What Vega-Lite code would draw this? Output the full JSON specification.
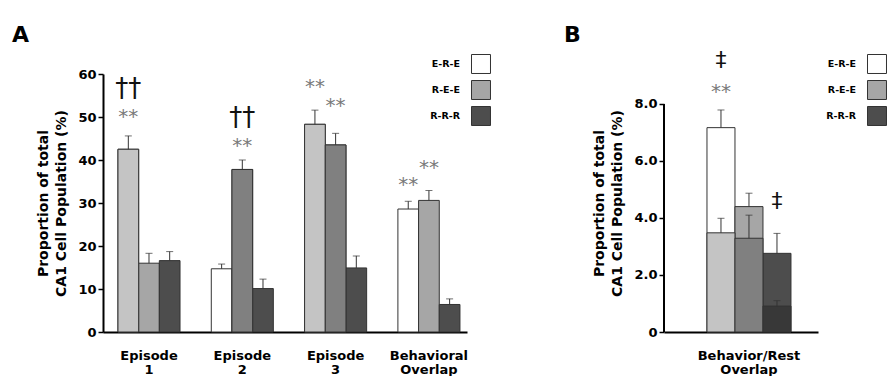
{
  "$schema": "https://vega.github.io/schema/vega-lite/v6.json",
  "padding": {"left": 12, "top": 23, "right": 0, "bottom": 0},
  "config": {
    "font": "DejaVu Sans",
    "view": {"stroke": null},
    "axis": {"grid": false, "domainColor": "#000", "domainWidth": 2, "tickColor": "#000", "labelColor": "#000", "titleColor": "#000", "labelFont": "DejaVu Sans", "titleFont": "DejaVu Sans"}
  },
  "datasets": {
    "a": [
      {"group": "Episode 1", "series": "E-R-E", "value": 42.5, "err": 45.6, "active": true},
      {"group": "Episode 1", "series": "R-E-E", "value": 16.0, "err": 18.3, "active": false},
      {"group": "Episode 1", "series": "R-R-R", "value": 16.6, "err": 18.7, "active": false},
      {"group": "Episode 2", "series": "E-R-E", "value": 14.7, "err": 15.8, "active": false},
      {"group": "Episode 2", "series": "R-E-E", "value": 37.8, "err": 40.0, "active": true},
      {"group": "Episode 2", "series": "R-R-R", "value": 10.1, "err": 12.3, "active": false},
      {"group": "Episode 3", "series": "E-R-E", "value": 48.3, "err": 51.6, "active": true},
      {"group": "Episode 3", "series": "R-E-E", "value": 43.5, "err": 46.2, "active": true},
      {"group": "Episode 3", "series": "R-R-R", "value": 14.9, "err": 17.7, "active": false},
      {"group": "Behavioral Overlap", "series": "E-R-E", "value": 28.6, "err": 30.4, "active": false},
      {"group": "Behavioral Overlap", "series": "R-E-E", "value": 30.6, "err": 32.9, "active": false},
      {"group": "Behavioral Overlap", "series": "R-R-R", "value": 6.4, "err": 7.7, "active": false}
    ],
    "aAnn": [
      {"group": "Episode 1", "series": "E-R-E", "label": "††", "level": 56.6},
      {"group": "Episode 1", "series": "E-R-E", "label": "**", "level": 50.0},
      {"group": "Episode 2", "series": "R-E-E", "label": "††", "level": 49.7},
      {"group": "Episode 2", "series": "R-E-E", "label": "**", "level": 43.3},
      {"group": "Episode 3", "series": "E-R-E", "label": "**", "level": 56.9},
      {"group": "Episode 3", "series": "R-E-E", "label": "**", "level": 52.5},
      {"group": "Behavioral Overlap", "series": "E-R-E", "label": "**", "level": 34.3},
      {"group": "Behavioral Overlap", "series": "R-E-E", "label": "**", "level": 38.2}
    ],
    "b": [
      {"group": "Behavior/Rest Overlap", "series": "E-R-E", "part": "total", "value": 7.17, "err": 7.79},
      {"group": "Behavior/Rest Overlap", "series": "R-E-E", "part": "total", "value": 4.4, "err": 4.87},
      {"group": "Behavior/Rest Overlap", "series": "R-R-R", "part": "total", "value": 2.76, "err": 3.46},
      {"group": "Behavior/Rest Overlap", "series": "E-R-E", "part": "subset", "value": 3.48, "err": 3.99},
      {"group": "Behavior/Rest Overlap", "series": "R-E-E", "part": "subset", "value": 3.29, "err": 4.1},
      {"group": "Behavior/Rest Overlap", "series": "R-R-R", "part": "subset", "value": 0.91, "err": 1.1}
    ],
    "bAnn": [
      {"group": "Behavior/Rest Overlap", "series": "E-R-E", "label": "‡", "level": 9.54},
      {"group": "Behavior/Rest Overlap", "series": "E-R-E", "label": "**", "level": 8.42},
      {"group": "Behavior/Rest Overlap", "series": "R-R-R", "label": "‡", "level": 4.6}
    ]
  },
  "columns": 2,
  "align": "none",
  "spacing": 71,
  "resolve": {"scale": {"fill": "independent", "x": "independent", "y": "independent", "xOffset": "independent"}, "legend": {"fill": "independent"}},
  "concat": [
    {
      "width": 364,
      "height": 258,
      "title": {"text": "A", "anchor": "start", "frame": "group", "dx": -91, "offset": 7.5, "fontSize": 22, "fontWeight": "bold", "font": "DejaVu Sans", "color": "#000"},
      "encoding": {
        "x": {
          "field": "group", "type": "nominal",
          "sort": ["Episode 1", "Episode 2", "Episode 3", "Behavioral Overlap"],
          "scale": {"paddingInner": 0.335, "paddingOuter": 0.118, "align": 0.68},
          "axis": {"title": null, "ticks": false, "labelAngle": 0, "labelFontSize": 13, "labelFontWeight": "bold", "labelPadding": 17, "labelLineHeight": 14, "labelExpr": "split(datum.label, ' ')"}
        },
        "xOffset": {"field": "series", "type": "nominal", "sort": ["E-R-E", "R-E-E", "R-R-R"], "scale": {"paddingInner": 0, "paddingOuter": 0}}
      },
      "layer": [
        {
          "data": {"name": "a"},
          "mark": {"type": "bar", "stroke": "#333", "strokeWidth": 1},
          "encoding": {
            "y": {
              "field": "value", "type": "quantitative",
              "scale": {"domain": [0, 60]},
              "axis": {"values": [0, 10, 20, 30, 40, 50, 60], "tickSize": 5, "tickWidth": 1.5, "labelFontSize": 13, "labelFontWeight": "bold", "labelPadding": 2, "title": ["Proportion of total", "CA1 Cell Population (%)"], "titleFontSize": 14, "titleFontWeight": "bold", "titleLineHeight": 18, "titlePadding": 9}
            },
            "fill": {
              "field": "series", "type": "nominal",
              "scale": {"domain": ["E-R-E", "R-E-E", "R-R-R"], "range": ["#ffffff", "#a6a6a6", "#4d4d4d"]},
              "legend": {"title": null, "orient": "none", "legendX": 368, "legendY": -20, "symbolType": "square", "symbolSize": 360, "symbolStrokeColor": "#333", "symbolStrokeWidth": 1, "symbolOffset": 0, "labelAlign": "right", "labelOffset": -31, "labelFontSize": 9.5, "labelFontWeight": "bold", "labelColor": "#000", "rowPadding": 2}
            }
          }
        },
        {
          "data": {"name": "a"},
          "transform": [{"filter": "datum.active"}],
          "mark": {"type": "bar", "stroke": "#333", "strokeWidth": 1},
          "encoding": {
            "y": {"field": "value", "type": "quantitative"},
            "fill": {"condition": {"test": "datum.series === 'E-R-E'", "value": "#c4c4c4"}, "value": "#808080"}
          }
        },
        {
          "data": {"name": "a"},
          "mark": {"type": "rule", "color": "#333", "strokeWidth": 1},
          "encoding": {
            "y": {"field": "value", "type": "quantitative"},
            "y2": {"field": "err"}
          }
        },
        {
          "data": {"name": "a"},
          "mark": {"type": "tick", "color": "#333", "thickness": 1, "size": 7},
          "encoding": {"y": {"field": "err", "type": "quantitative"}}
        },
        {
          "data": {"name": "aAnn"},
          "mark": {"type": "text", "baseline": "middle", "align": "center"},
          "encoding": {
            "y": {"field": "level", "type": "quantitative"},
            "text": {"field": "label"},
            "fill": {"condition": {"test": "datum.label === '††'", "value": "#111"}, "value": "#7a7a7a"},
            "size": {"condition": {"test": "datum.label === '††'", "value": 26}, "value": 20}
          }
        }
      ]
    },
    {
      "width": 154,
      "height": 258,
      "title": {"text": "B", "anchor": "start", "frame": "group", "dx": -100, "offset": 2.5, "fontSize": 22, "fontWeight": "bold", "font": "DejaVu Sans", "color": "#000"},
      "resolve": {"scale": {"x": "independent", "y": "independent"}},
      "layer": [
        {
          "encoding": {
            "x": {
              "field": "group", "type": "nominal",
              "scale": {"paddingInner": 0, "paddingOuter": 0.4167, "align": 0.614},
              "axis": {"title": null, "ticks": false, "labelAngle": 0, "labelFontSize": 13, "labelFontWeight": "bold", "labelPadding": 17, "labelLineHeight": 14, "labelExpr": "split(datum.label, ' ')"}
            },
            "xOffset": {"field": "series", "type": "nominal", "sort": ["E-R-E", "R-E-E", "R-R-R"], "scale": {"paddingInner": 0, "paddingOuter": 0}}
          },
          "layer": [
            {
              "data": {"name": "b"},
              "transform": [{"filter": "datum.part === 'total'"}],
              "mark": {"type": "bar", "stroke": "#333", "strokeWidth": 1},
              "encoding": {
                "y": {
                  "field": "value", "type": "quantitative",
                  "scale": {"domain": [0, 9.0526], "nice": false},
                  "axis": {"values": [0, 2, 4, 6, 8], "domain": false, "labelExpr": "datum.value === 0 ? '0' : format(datum.value, '.1f')", "tickSize": 5, "tickWidth": 1.5, "labelFontSize": 13, "labelFontWeight": "bold", "labelPadding": 2, "title": ["Proportion of total", "CA1 Cell Population (%)"], "titleFontSize": 14, "titleFontWeight": "bold", "titleLineHeight": 18, "titlePadding": 9}
                },
                "fill": {
                  "field": "series", "type": "nominal",
                  "scale": {"domain": ["E-R-E", "R-E-E", "R-R-R"], "range": ["#ffffff", "#a6a6a6", "#4d4d4d"]},
                  "legend": {"title": null, "orient": "none", "legendX": 203, "legendY": -20, "symbolType": "square", "symbolSize": 360, "symbolStrokeColor": "#333", "symbolStrokeWidth": 1, "symbolOffset": 0, "labelAlign": "right", "labelOffset": -31, "labelFontSize": 9.5, "labelFontWeight": "bold", "labelColor": "#000", "rowPadding": 2}
                }
              }
            },
            {
              "data": {"name": "b"},
              "transform": [{"filter": "datum.part === 'subset'"}],
              "mark": {"type": "bar", "stroke": "#333", "strokeWidth": 1},
              "encoding": {
                "y": {"field": "value", "type": "quantitative"},
                "fill": {"condition": [{"test": "datum.series === 'E-R-E'", "value": "#c4c4c4"}, {"test": "datum.series === 'R-E-E'", "value": "#808080"}], "value": "#383838"}
              }
            },
            {
              "data": {"name": "b"},
              "mark": {"type": "rule", "color": "#333", "strokeWidth": 1},
              "encoding": {
                "y": {"field": "value", "type": "quantitative"},
                "y2": {"field": "err"}
              }
            },
            {
              "data": {"name": "b"},
              "mark": {"type": "tick", "color": "#333", "thickness": 1, "size": 7},
              "encoding": {"y": {"field": "err", "type": "quantitative"}}
            },
            {
              "data": {"name": "bAnn"},
              "mark": {"type": "text", "baseline": "middle", "align": "center"},
              "encoding": {
                "y": {"field": "level", "type": "quantitative"},
                "text": {"field": "label"},
                "fill": {"condition": {"test": "datum.label === '‡'", "value": "#111"}, "value": "#7a7a7a"},
                "size": {"condition": {"test": "datum.label === '‡'", "value": 22}, "value": 20}
              }
            }
          ]
        },
        {
          "data": {"values": [{"axisFrom": 0, "axisTo": 8, "edge": 0}]},
          "mark": {"type": "rule", "color": "#000", "strokeWidth": 2},
          "encoding": {
            "x": {"field": "edge", "type": "quantitative", "scale": {"domain": [0, 1]}, "axis": null},
            "y": {"field": "axisFrom", "type": "quantitative", "scale": {"domain": [0, 9.0526], "nice": false}, "axis": null},
            "y2": {"field": "axisTo"}
          }
        }
      ]
    }
  ]
}
